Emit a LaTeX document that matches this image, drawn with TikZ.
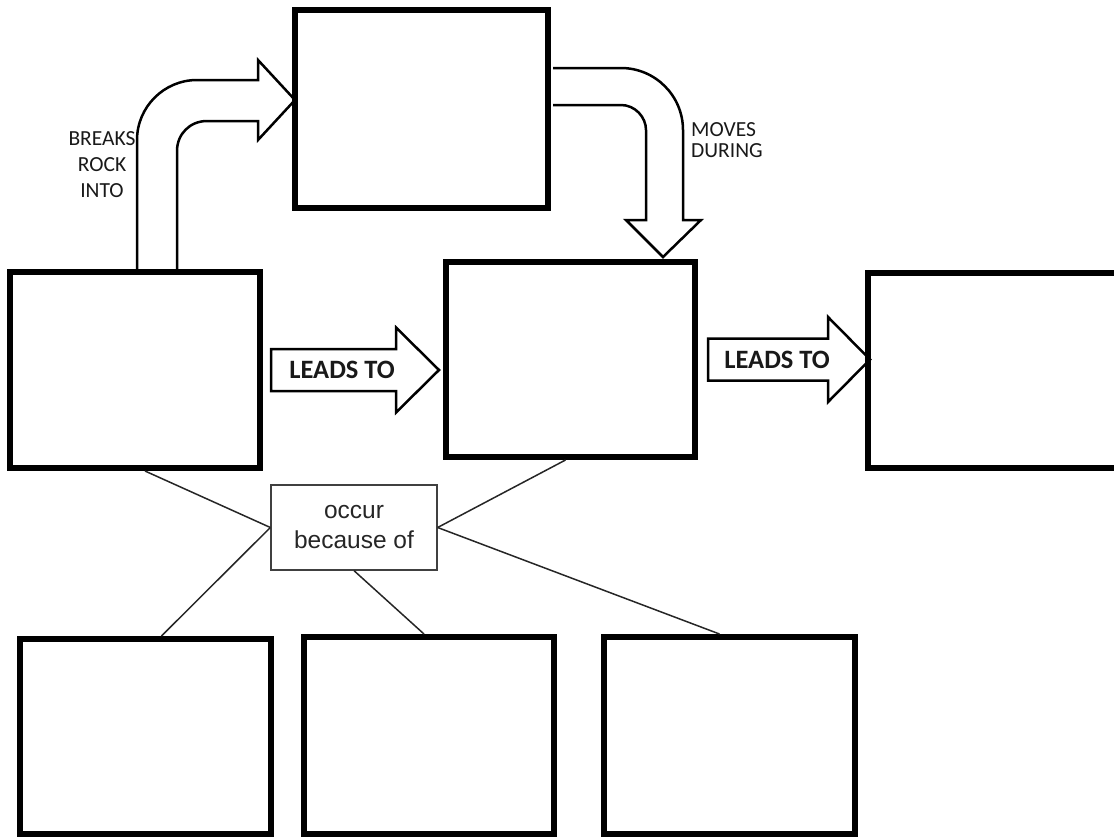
\documentclass[tikz,border=0pt]{standalone}
\usepackage{fontspec}
\setmainfont{Carlito}
\newfontfamily\arialfont{Liberation Sans}
\usetikzlibrary{positioning, calc}

\begin{document}
\begin{tikzpicture}[x=1pt, y=-1pt,
  bigbox/.style={draw, line width=6pt, minimum width=250pt,
    minimum height=196pt, inner sep=0pt},
  causebox/.style={draw=black!75, line width=1.3pt, minimum width=166pt,
    minimum height=85pt, align=center, text=black!85,
    font=\arialfont\fontsize{24.5}{30}\selectfont},
  bent/.style={line width=2.5pt, line join=miter},
  leadtxt/.style={inner sep=0pt, anchor=east, text=black!90,
    font=\bfseries\fontsize{26.5}{30}\selectfont},
  link/.style={line width=1.5pt, black!85},
  lbl/.style={inner sep=0pt, text=black!90, font=\fontsize{21.5}{26}\selectfont}
]
  \useasboundingbox (0,0) rectangle (1114,838);

  % Main chain
  \node[bigbox] (weathering) at (135,370) {};
  \node[bigbox, minimum width=253pt, minimum height=198pt] (sediment) at (421.5,109) {};
  \node[bigbox, minimum width=249pt, minimum height=195pt] (erosion) at (570.5,359.5) {};
  \node[bigbox, minimum width=252pt, minimum height=195pt] (deposition) at (994,370.5) {};

  % Leads to arrows
  \begin{scope}[shift={(weathering.east)}]
    \draw[bent] (8,-21) -- (133,-21) -- (133,-42.5) -- (176,0) -- (133,42.5)
      -- (133,21) -- (8,21) -- cycle;
    \node[leadtxt] (lead1) at (132,0) {LEADS TO};
  \end{scope}
  \begin{scope}[shift={(erosion.east)}]
    \draw[bent] (10,-21) -- (130,-21) -- (130,-42.5) -- (172,0) -- (130,42.5)
      -- (130,21) -- (10,21) -- cycle;
    \node[leadtxt] (lead2) at (132,0) {LEADS TO};
  \end{scope}

  % Bent arrows
  \begin{scope}[shift={(weathering.north)}]
    \draw[bent] (2,0) -- (2,-129) .. controls (2,-162) and (29,-189) .. (62,-189)
      -- (123,-189) -- (123,-209) -- (160,-169) -- (123,-129) -- (123,-148)
      -- (72,-148) .. controls (55,-148) and (42,-135) .. (42,-118) -- (42,0);
  \end{scope}
  \begin{scope}[shift={(sediment.east)}]
    \draw[bent] (2,-4) -- (70,-4) .. controls (83.8,-4) and (95,7.8) .. (95,21)
      -- (95,111) -- (75,111) -- (112,148) -- (150,111) -- (132,111)
      -- (132,21) .. controls (132,-13.2) and (104.2,-41) .. (70,-41) -- (2,-41);
  \end{scope}

  \node[lbl, align=center] (breaks) at (102,165) {BREAKS\\ROCK\\INTO};
  \node[lbl, align=left, anchor=north west, font=\fontsize{21.5}{21}\selectfont]
    (moves) at (691,122) {MOVES\\DURING};

  % Causes
  \node[causebox] (cause) at (354,527.5) {occur\\because of};
  \node[bigbox, minimum width=251pt, minimum height=195pt] (agentA) at (145.5,736.5) {};
  \node[bigbox, minimum width=250pt, minimum height=197pt] (agentB) at (429,735.5) {};
  \node[bigbox, minimum width=251pt, minimum height=197pt] (agentC) at (729.5,735.5) {};

  \draw[link] ([xshift=10pt]weathering.south) -- (cause.west);
  \draw[link] (cause.west) -- ([xshift=16pt]agentA.north);
  \draw[link] (cause.south) -- ([xshift=-5pt]agentB.north);
  \draw[link] ([xshift=-5pt]erosion.south) -- (cause.east);
  \draw[link] (cause.east) -- ([xshift=-10pt]agentC.north);
\end{tikzpicture}
\end{document}
